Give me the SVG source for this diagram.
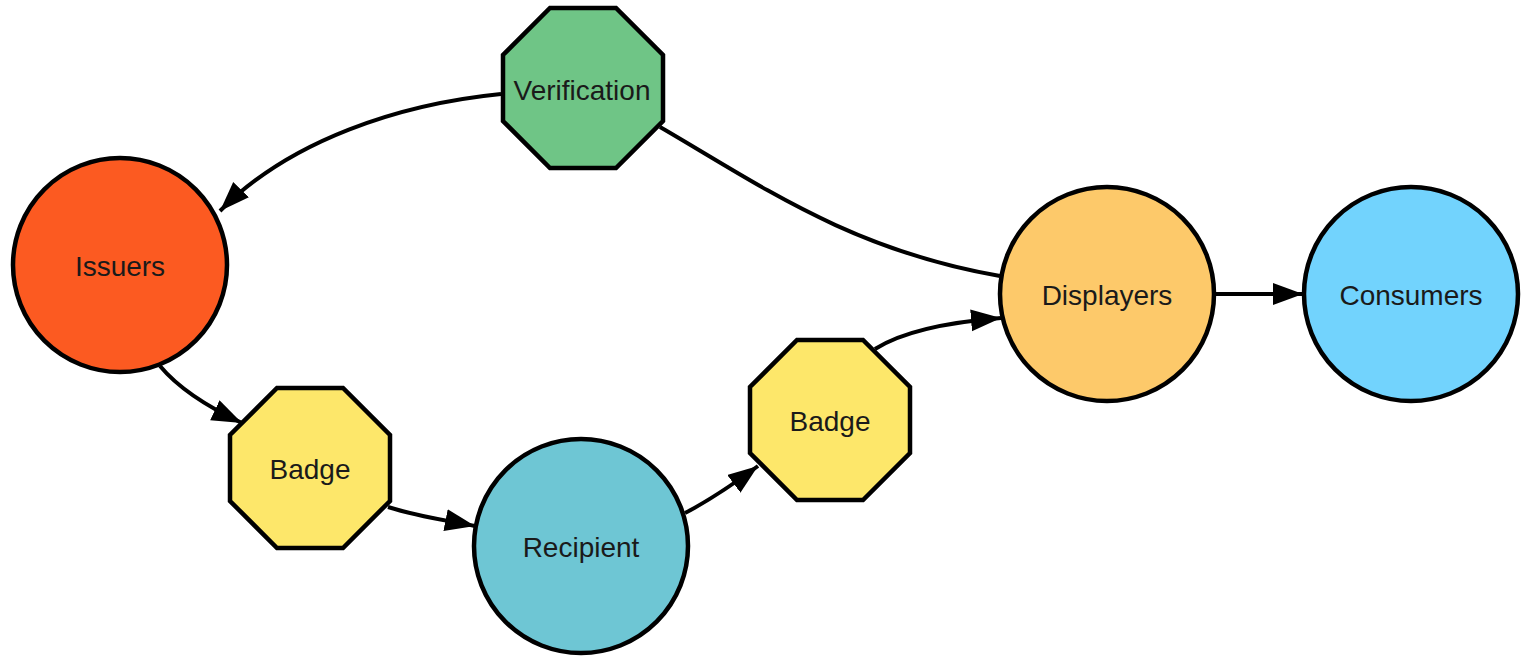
<svg xmlns="http://www.w3.org/2000/svg" width="1521" height="656" viewBox="0 0 1521 656">
<style>
.node{stroke:#000;stroke-width:4.5}
.lbl{font-family:"Liberation Sans",Arial,Helvetica,sans-serif;font-size:28px;fill:#1a1a1a;text-anchor:middle}
.edge{fill:none;stroke:#000;stroke-width:4}
</style>
<defs>
<marker id="arr" markerUnits="userSpaceOnUse" markerWidth="32" markerHeight="24" refX="30" refY="11" orient="auto">
<path d="M0,0 L30,11 L0,22 z" fill="#000"/>
</marker>
</defs>
<rect width="1521" height="656" fill="#fff"/>
<g id="connectors">
<path class="edge" d="M501,94 C400,104 290,140 220,211" marker-end="url(#arr)"/>
<path class="edge" d="M160,366 C180,390 210,408 242,423" marker-end="url(#arr)"/>
<path class="edge" d="M388,507 C420,517 445,520 475,526" marker-end="url(#arr)"/>
<path class="edge" d="M685,513 C710,500 735,483 758,466" marker-end="url(#arr)"/>
<path class="edge" d="M875,349 C905,330 950,322 1001,318" marker-end="url(#arr)"/>
<path class="edge" d="M660,127 C760,185 850,250 1000,276"/>
<path class="edge" d="M1214,294 L1303,294" marker-end="url(#arr)"/>
</g>
<g id="verification">
<polygon class="node" fill="#6fc586" points="550,8 616,8 663,55 663,121 616,168 550,168 503,121 503,55"/>
<text class="lbl" x="582" y="100">Verification</text>
</g>
<g id="issuers">
<circle class="node" fill="#fc5a21" cx="120" cy="265" r="107"/>
<text class="lbl" x="120" y="276">Issuers</text>
</g>
<g id="badge1">
<polygon class="node" fill="#fde76a" points="277,388 343,388 390,435 390,501 343,548 277,548 230,501 230,435"/>
<text class="lbl" x="310" y="479">Badge</text>
</g>
<g id="recipient">
<circle class="node" fill="#6ec6d4" cx="581" cy="546" r="107"/>
<text class="lbl" x="581" y="557">Recipient</text>
</g>
<g id="badge2">
<polygon class="node" fill="#fde76a" points="797,340 863,340 910,387 910,453 863,500 797,500 750,453 750,387"/>
<text class="lbl" x="830" y="431">Badge</text>
</g>
<g id="displayers">
<circle class="node" fill="#fdc96a" cx="1107" cy="294" r="107"/>
<text class="lbl" x="1107" y="305">Displayers</text>
</g>
<g id="consumers">
<circle class="node" fill="#72d3fd" cx="1411" cy="294" r="107"/>
<text class="lbl" x="1411" y="305">Consumers</text>
</g>
</svg>
